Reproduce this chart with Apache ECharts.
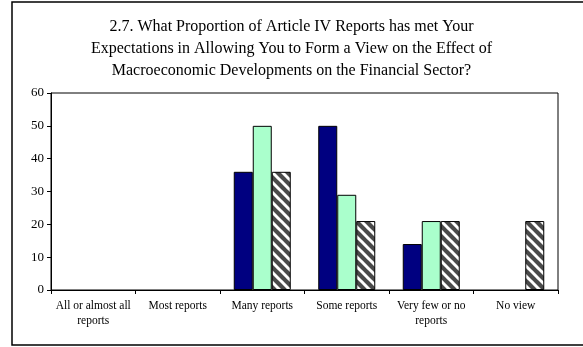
<!DOCTYPE html>
<html>
<head>
<meta charset="utf-8">
<script src="https://cdn.jsdelivr.net/npm/echarts@6/dist/echarts.min.js"></script>
<style>
  html, body { margin: 0; padding: 0; background: #fff; }
  #chart { width: 583px; height: 347px; }
</style>
</head>
<body>
<div id="chart"></div>
<script>
// Survey answer categories along the x axis
const categories = [
  'All or almost all\nreports',
  'Most reports',
  'Many reports',
  'Some reports',
  'Very few or no\nreports',
  'No view'
];

// Percentages of respondents for each of the three respondent groups
const seriesA = [0, 0, 36, 50, 14, 0];
const seriesB = [0, 0, 50, 29, 21, 0];
const seriesC = [0, 0, 36, 21, 21, 21];

// Value axis ticks
const yMin = 0;
const yMax = 60;
const yStep = 10;

const titleText = '2.7. What Proportion of Article IV Reports has met Your\n' +
  'Expectations in Allowing You to Form a View on the Effect of\n' +
  'Macroeconomic Developments on the Financial Sector?';

// Dark grey fill with white diagonal stripes for the third series
function stripePattern() {
  const size = 10;
  const c = document.createElement('canvas');
  c.width = size; c.height = size;
  const ctx = c.getContext('2d');
  ctx.fillStyle = '#4a4a4a';
  ctx.fillRect(0, 0, size, size);
  ctx.strokeStyle = '#ffffff';
  ctx.lineWidth = 3;
  for (const k of [-size, 0, size]) {
    ctx.beginPath();
    ctx.moveTo(k - 1, -1);
    ctx.lineTo(k + size + 1, size + 1);
    ctx.stroke();
  }
  return c;
}

// Zero answers draw no bar at all (no outline along the axis)
const bars = arr => arr.map(v => (v === 0 ? '-' : v));

const serif = '"Liberation Serif", "Times New Roman", serif';
const chart = echarts.init(document.getElementById('chart'), null, { renderer: 'canvas' });

const barStyle = { borderColor: '#000', borderWidth: 1 };

chart.setOption({
  animation: false,
  backgroundColor: '#fff',
  title: {
    text: titleText,
    left: 'center',
    top: 11,
    textStyle: {
      fontFamily: serif,
      fontSize: 16,
      fontWeight: 'normal',
      color: '#000',
      lineHeight: 22
    }
  },
  graphic: [{
    type: 'rect',
    shape: { x: 12, y: 2, width: 600, height: 343 },
    style: { fill: 'none', stroke: '#000', lineWidth: 1.5 },
    silent: true,
    z: 100
  }],
  grid: {
    left: 51,
    right: 25,
    top: 93,
    bottom: 57,
    show: true,
    borderColor: '#000',
    borderWidth: 1,
    backgroundColor: 'transparent'
  },
  xAxis: {
    type: 'category',
    data: categories,
    axisLine: { lineStyle: { color: '#000', width: 1 } },
    axisTick: { show: true, length: 4, lineStyle: { color: '#000' } },
    axisLabel: {
      fontFamily: serif,
      fontSize: 11.5,
      color: '#000',
      lineHeight: 15,
      margin: 8,
      interval: 0
    }
  },
  yAxis: {
    type: 'value',
    min: yMin,
    max: yMax,
    interval: yStep,
    axisLine: { show: true, lineStyle: { color: '#000', width: 1 } },
    axisTick: { show: true, length: 4, lineStyle: { color: '#000' } },
    splitLine: { show: false },
    axisLabel: {
      fontFamily: serif,
      fontSize: 13,
      color: '#000',
      margin: 7
    }
  },
  series: [
    {
      type: 'bar',
      data: bars(seriesA),
      barWidth: 19,
      barGap: '0%',
      itemStyle: Object.assign({ color: '#000080' }, barStyle)
    },
    {
      type: 'bar',
      data: bars(seriesB),
      barWidth: 19,
      barGap: '0%',
      itemStyle: Object.assign({ color: '#aaffcc' }, barStyle)
    },
    {
      type: 'bar',
      data: bars(seriesC),
      barWidth: 19,
      barGap: '0%',
      itemStyle: Object.assign({
        color: { image: stripePattern(), repeat: 'repeat' }
      }, barStyle)
    }
  ]
});
</script>
</body>
</html>
